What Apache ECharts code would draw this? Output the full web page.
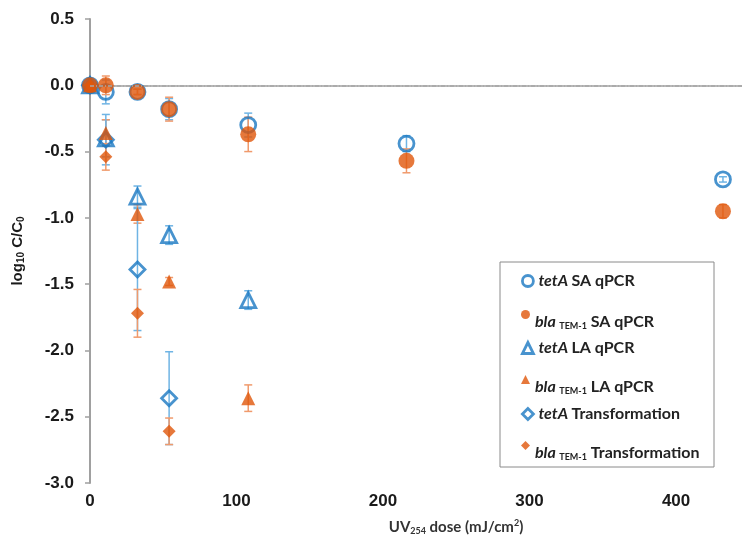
<!DOCTYPE html>
<html>
<head>
<meta charset="utf-8">
<script src="https://cdn.jsdelivr.net/npm/echarts@6/dist/echarts.min.js"></script>
<style>
  html, body { margin: 0; padding: 0; background: #fff; }
  #chart-container { width: 742px; height: 544px; }
</style>
</head>
<body>
<div id="chart-container"></div>
<script>
// UV254 doses (mJ/cm2)
var doses = [0, 10.8, 32.4, 54, 108, 216, 432];
var yTicks = [0.5, 0.0, -0.5, -1.0, -1.5, -2.0, -2.5, -3.0];
var xTickLabels = [0, 100, 200, 300, 400];

// log10 C/C0 and error (+/-) per series
var tetA_SA = [0, -0.05, -0.05, -0.18, -0.30, -0.44, -0.71];
var tetA_SA_err = [0.02, 0.09, 0.02, 0.08, 0.09, 0.06, 0.02];
var bla_SA = [0, 0.0, -0.05, -0.18, -0.37, -0.57, -0.95];
var bla_SA_err = [0.02, 0.07, 0.02, 0.09, 0.13, 0.09, 0.05];

var tetA_LA = [0, -0.40, -0.84, -1.13, -1.62];
var tetA_LA_err = [0.02, 0.14, 0.08, 0.07, 0.07];
var bla_LA = [0, -0.36, -0.97, -1.48, -2.36];
var bla_LA_err = [0.02, 0.10, 0.07, 0.03, 0.10];

var tetA_TF = [0, -0.41, -1.39, -2.36];
var tetA_TF_err = [0.02, 0.19, 0.46, 0.35];
var bla_TF = [0, -0.54, -1.72, -2.61];
var bla_TF_err = [0.02, 0.10, 0.18, 0.10];

var BLUE = "#1a78c2";
var ORANGE = "#e0560a";
var BLUE_ERR = "#6fb4e4";
var ORANGE_ERR = "#f09a6c";

var dom = document.getElementById("chart-container");
var myChart = echarts.init(dom, null, { renderer: "canvas" });

function pts(vals) {
  return vals.map(function (v, i) { return [doses[i], v]; });
}
function errs(vals, e) {
  return vals.map(function (v, i) { return [doses[i], v - e[i], v + e[i]]; });
}

function errSeries(vals, e, color) {
  return {
    type: "custom",
    z: 1,
    silent: true,
    data: errs(vals, e),
    renderItem: function (params, api) {
      var x = api.value(0);
      var top = api.coord([x, api.value(2)]);
      var bot = api.coord([x, api.value(1)]);
      var w = 4;
      var st = { stroke: color, lineWidth: 1.5 };
      return {
        type: "group",
        children: [
          { type: "line", shape: { x1: top[0], y1: top[1], x2: bot[0], y2: bot[1] }, style: st },
          { type: "line", shape: { x1: top[0] - w, y1: top[1], x2: top[0] + w, y2: top[1] }, style: st },
          { type: "line", shape: { x1: bot[0] - w, y1: bot[1], x2: bot[0] + w, y2: bot[1] }, style: st }
        ]
      };
    }
  };
}

var hollow = function (c) {
  return { color: "rgba(255,255,255,0)", borderColor: c, borderWidth: 2.8 };
};

var legendRich = {
  i: { fontFamily: "Lato", fontStyle: "italic", fontWeight: "bold", fontSize: 16, color: "#222", lineHeight: 18 },
  b: { fontFamily: "Lato", fontWeight: "bold", fontSize: 16, color: "#222", lineHeight: 18 },
  s: { fontFamily: "Lato", fontWeight: "bold", fontSize: 9, color: "#222", lineHeight: 18, verticalAlign: "bottom", padding: [6, 0, 0, 0] }
};

var legendNames = [
  ["tetA SA qPCR", "{i|tetA} {b|SA qPCR}", "circle", hollow(BLUE), 280],
  ["bla SA qPCR", "{i|bla }{s|TEM-1}{b| SA qPCR}", "circle", { color: ORANGE }, 321],
  ["tetA LA qPCR", "{i|tetA} {b|LA qPCR}", "triangle", hollow(BLUE), 347],
  ["bla LA qPCR", "{i|bla }{s|TEM-1}{b| LA qPCR}", "triangle", { color: ORANGE }, 386],
  ["tetA Transformation", "{i|tetA} {b|Transformation}", "diamond", hollow(BLUE), 413],
  ["bla Transformation", "{i|bla }{s|TEM-1}{b| Transformation}", "diamond", { color: ORANGE }, 452]
];

var legends = legendNames.map(function (l) {
  var isBla = l[0].indexOf("bla") === 0;
  return {
    z: 10,
    left: 516,
    top: l[4] - (isBla ? 16 : 12),
    itemWidth: isBla ? 9 : 11,
    itemHeight: isBla ? 9 : 11,
    selectedMode: false,
    data: [{ name: l[0], icon: l[2], itemStyle: l[3] }],
    formatter: function () { return l[1]; },
    textStyle: { rich: legendRich, padding: isBla ? [14, 0, 0, 0] : 0 }
  };
});

option = {
  backgroundColor: "#fff",
  animation: false,
  grid: { left: 90, right: 0, top: 19, bottom: 61 },
  graphic: [
    {
      type: "rect",
      z: 0,
      shape: { x: 500, y: 262, width: 214, height: 205 },
      style: { fill: "none", stroke: "#8a8a8a", lineWidth: 1 }
    }
  ],
  legend: legends,
  xAxis: {
    type: "value",
    min: 0,
    max: 445,
    interval: 100,
    name: "{n|UV}{s|254}{n| dose (mJ/cm}{p|2}{n|)}",
    nameLocation: "middle",
    nameGap: 36,
    nameTextStyle: {
      // original figure is cropped on the right, so the title sits right of centre
      padding: [0, 0, 0, 80],
      rich: {
        n: { fontFamily: "Lato", fontSize: 15, color: "#333", fontWeight: "bold" },
        s: { fontFamily: "Lato", fontSize: 9, color: "#333", fontWeight: "bold", verticalAlign: "bottom", padding: [8, 0, 0, 0] },
        p: { fontFamily: "Lato", fontSize: 9, color: "#333", fontWeight: "bold", verticalAlign: "top", padding: [0, 0, 6, 0] }
      }
    },
    axisLine: { lineStyle: { color: "#a0a0a0", width: 1.5 } },
    axisTick: { show: false },
    splitLine: { show: false },
    axisLabel: {
      showMaxLabel: false,
      margin: 10,
      fontFamily: "Liberation Sans",
      fontWeight: "bold",
      fontSize: 17,
      color: "#1a1a1a",
      formatter: function (v) {
        return xTickLabels.indexOf(v) >= 0 ? String(v) : "";
      }
    }
  },
  yAxis: {
    type: "value",
    min: -3,
    max: 0.5,
    interval: 0.5,
    name: "{n|log}{s|10}{n| C/C}{s|0}",
    nameLocation: "middle",
    nameRotate: 90,
    nameGap: 64,
    nameTextStyle: {
      rich: {
        n: { fontFamily: "Liberation Sans", fontSize: 15, fontWeight: "bold", color: "#1a1a1a" },
        s: { fontFamily: "Liberation Sans", fontSize: 10, fontWeight: "bold", color: "#1a1a1a", verticalAlign: "bottom", padding: [6, 0, 0, 0] }
      }
    },
    axisLine: { show: true, lineStyle: { color: "#a0a0a0", width: 2 } },
    axisTick: { show: true, length: 5, lineStyle: { color: "#a0a0a0", width: 1.5 } },
    splitLine: { show: false },
    axisLabel: {
      margin: 16,
      fontFamily: "Liberation Sans",
      fontWeight: "bold",
      fontSize: 17,
      color: "#1a1a1a",
      formatter: function (v) {
        var t = yTicks.filter(function (y) { return Math.abs(y - v) < 1e-9; });
        return t.length ? v.toFixed(1) : "";
      }
    }
  },
  series: [
    errSeries(tetA_SA, tetA_SA_err, BLUE_ERR),
    errSeries(bla_SA, bla_SA_err, ORANGE_ERR),
    errSeries(tetA_LA, tetA_LA_err, BLUE_ERR),
    errSeries(bla_LA, bla_LA_err, ORANGE_ERR),
    errSeries(tetA_TF, tetA_TF_err, BLUE_ERR),
    errSeries(bla_TF, bla_TF_err, ORANGE_ERR),
    {
      name: "tetA SA qPCR",
      type: "scatter",
      z: 2,
      symbol: "circle",
      symbolSize: 15,
      itemStyle: hollow(BLUE),
      data: pts(tetA_SA),
      markLine: {
        silent: true,
        symbol: "none",
        label: { show: false },
        lineStyle: { color: "#a8a8a8", type: [4, 2, 1, 2], width: 1.5 },
        data: [{ yAxis: 0 }]
      }
    },
    {
      name: "tetA LA qPCR",
      type: "scatter",
      z: 2,
      symbol: "triangle",
      symbolSize: 15,
      itemStyle: hollow(BLUE),
      data: pts(tetA_LA)
    },
    {
      name: "tetA Transformation",
      type: "scatter",
      z: 2,
      symbol: "diamond",
      symbolSize: 15,
      itemStyle: hollow(BLUE),
      data: pts(tetA_TF)
    },
    {
      name: "bla SA qPCR",
      type: "scatter",
      z: 3,
      symbol: "circle",
      symbolSize: 16,
      itemStyle: { color: ORANGE },
      data: pts(bla_SA)
    },
    {
      name: "bla LA qPCR",
      type: "scatter",
      z: 3,
      symbol: "triangle",
      symbolSize: 14,
      itemStyle: { color: ORANGE },
      data: pts(bla_LA)
    },
    {
      name: "bla Transformation",
      type: "scatter",
      z: 3,
      symbol: "diamond",
      symbolSize: 13,
      itemStyle: { color: ORANGE },
      data: pts(bla_TF)
    }
  ]
};

if (option && typeof option === "object") {
  myChart.setOption(option);
}

window.addEventListener("resize", myChart.resize);
</script>
</body>
</html>
